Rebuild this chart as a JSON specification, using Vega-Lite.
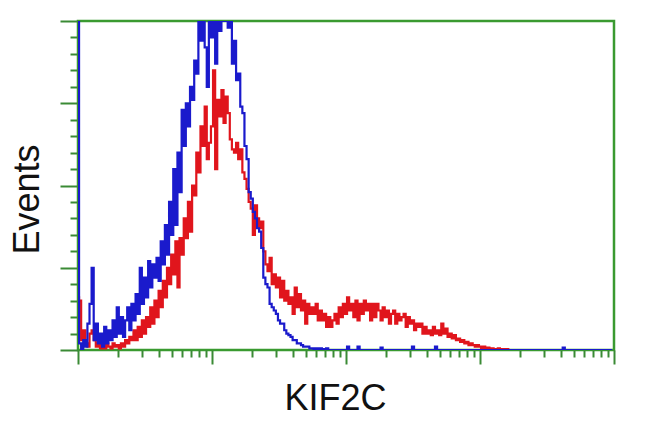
{
  "$schema": "https://vega.github.io/schema/vega-lite/v6.json",
  "width": 536,
  "height": 329,
  "autosize": "none",
  "padding": {"left": 78, "top": 21, "right": 36, "bottom": 82},
  "background": "white",
  "config": {
    "view": {"stroke": "#3a9a30", "strokeWidth": 2.5},
    "axis": {"domain": false, "grid": false, "labels": false, "tickColor": "#3a8a35", "tickWidth": 2,
      "titleFont": "Liberation Sans", "titleFontSize": 36, "titleFontWeight": "normal", "titleColor": "#111111"}
  },
  "data": {"values": [
{"b":0,"red":16,"blue":130},{"b":1,"red":15,"blue":2},{"b":2,"red":3,"blue":0},{"b":3,"red":6,"blue":3},{"b":4,"red":2,"blue":1},{"b":5,"red":1,"blue":8},{"b":6,"red":5,"blue":14},{"b":7,"red":6,"blue":25},{"b":8,"red":3,"blue":3},{"b":9,"red":1,"blue":8},
{"b":10,"red":2,"blue":2},{"b":11,"red":0.5,"blue":5},{"b":12,"red":1.5,"blue":1},{"b":13,"red":0.5,"blue":7},{"b":14,"red":2,"blue":2},{"b":15,"red":1,"blue":6},{"b":16,"red":0.5,"blue":3},{"b":17,"red":2,"blue":9},{"b":18,"red":1,"blue":4},{"b":19,"red":1.5,"blue":13},
{"b":20,"red":0.5,"blue":5},{"b":21,"red":2,"blue":10},{"b":22,"red":1,"blue":4},{"b":23,"red":3,"blue":9},{"b":24,"red":2,"blue":13},{"b":25,"red":4,"blue":6},{"b":26,"red":3,"blue":14},{"b":27,"red":6,"blue":9},{"b":28,"red":3,"blue":17},{"b":29,"red":7,"blue":11},
{"b":30,"red":4,"blue":25},{"b":31,"red":9,"blue":14},{"b":32,"red":5,"blue":22},{"b":33,"red":10,"blue":16},{"b":34,"red":7,"blue":27},{"b":35,"red":13,"blue":19},{"b":36,"red":8,"blue":26},{"b":37,"red":15,"blue":22},{"b":38,"red":10,"blue":28},{"b":39,"red":18,"blue":21},
{"b":40,"red":13,"blue":33},{"b":41,"red":21,"blue":26},{"b":42,"red":16,"blue":38},{"b":43,"red":25,"blue":29},{"b":44,"red":20,"blue":45},{"b":45,"red":29,"blue":35},{"b":46,"red":23,"blue":55},{"b":47,"red":33,"blue":38},{"b":48,"red":19,"blue":60},{"b":49,"red":34,"blue":48},
{"b":50,"red":29,"blue":73},{"b":51,"red":40,"blue":62},{"b":52,"red":34,"blue":75},{"b":53,"red":45,"blue":68},{"b":54,"red":36,"blue":80},{"b":55,"red":50,"blue":76},{"b":56,"red":47,"blue":88},{"b":57,"red":60,"blue":84},{"b":58,"red":54,"blue":100},{"b":59,"red":68,"blue":94},
{"b":60,"red":62,"blue":105},{"b":61,"red":74,"blue":92},{"b":62,"red":58,"blue":80},{"b":63,"red":63,"blue":102},{"b":64,"red":68,"blue":95},{"b":65,"red":85,"blue":104},{"b":66,"red":55,"blue":87},{"b":67,"red":76,"blue":102},{"b":68,"red":71,"blue":97},{"b":69,"red":79,"blue":106},
{"b":70,"red":69,"blue":100},{"b":71,"red":77,"blue":108},{"b":72,"red":72,"blue":98},{"b":73,"red":64,"blue":101},{"b":74,"red":61,"blue":87},{"b":75,"red":60,"blue":94},{"b":76,"red":63,"blue":82},{"b":77,"red":58,"blue":84},{"b":78,"red":61,"blue":74},{"b":79,"red":54,"blue":72},
{"b":80,"red":52,"blue":62},{"b":81,"red":49,"blue":58},{"b":82,"red":45,"blue":48},{"b":83,"red":43,"blue":46},{"b":84,"red":35,"blue":42},{"b":85,"red":44,"blue":40},{"b":86,"red":40,"blue":37},{"b":87,"red":37,"blue":36},{"b":88,"red":39,"blue":31},{"b":89,"red":30,"blue":22},
{"b":90,"red":26,"blue":20},{"b":91,"red":24,"blue":19},{"b":92,"red":28,"blue":14},{"b":93,"red":20,"blue":13},{"b":94,"red":23,"blue":12},{"b":95,"red":19,"blue":11},{"b":96,"red":22,"blue":9},{"b":97,"red":16,"blue":8},{"b":98,"red":21,"blue":8},{"b":99,"red":15,"blue":6},
{"b":100,"red":18,"blue":5},{"b":101,"red":14,"blue":4.5},{"b":102,"red":16,"blue":4},{"b":103,"red":11,"blue":3},{"b":104,"red":19,"blue":3},{"b":105,"red":13,"blue":2},{"b":106,"red":17,"blue":2},{"b":107,"red":12,"blue":1.5},{"b":108,"red":15,"blue":1},{"b":109,"red":8,"blue":1},
{"b":110,"red":14,"blue":1},{"b":111,"red":11,"blue":0.5},{"b":112,"red":13,"blue":0.5},{"b":113,"red":11,"blue":0.3},{"b":114,"red":14,"blue":0.5},{"b":115,"red":9,"blue":0},{"b":116,"red":12,"blue":0.5},{"b":117,"red":9,"blue":0},{"b":118,"red":11,"blue":0.3},{"b":119,"red":7,"blue":0.5},
{"b":120,"red":10,"blue":0},{"b":121,"red":7,"blue":0},{"b":122,"red":9,"blue":0},{"b":123,"red":11,"blue":0},{"b":124,"red":8,"blue":0},{"b":125,"red":13,"blue":0},{"b":126,"red":10,"blue":0},{"b":127,"red":14,"blue":0},{"b":128,"red":11,"blue":0},{"b":129,"red":16,"blue":1},
{"b":130,"red":12,"blue":0},{"b":131,"red":14,"blue":0},{"b":132,"red":10,"blue":0},{"b":133,"red":15,"blue":0},{"b":134,"red":9,"blue":1},{"b":135,"red":14,"blue":0},{"b":136,"red":11,"blue":0},{"b":137,"red":15,"blue":0},{"b":138,"red":12,"blue":0},{"b":139,"red":14,"blue":0},
{"b":140,"red":9,"blue":0},{"b":141,"red":14,"blue":0},{"b":142,"red":10,"blue":0},{"b":143,"red":14,"blue":0},{"b":144,"red":12,"blue":0},{"b":145,"red":9,"blue":0.7},{"b":146,"red":13,"blue":0},{"b":147,"red":10,"blue":0},{"b":148,"red":12,"blue":0},{"b":149,"red":8,"blue":0},
{"b":150,"red":11,"blue":0},{"b":151,"red":12,"blue":0},{"b":152,"red":8,"blue":0},{"b":153,"red":11,"blue":0},{"b":154,"red":9,"blue":0},{"b":155,"red":10,"blue":0},{"b":156,"red":11,"blue":0},{"b":157,"red":7,"blue":0},{"b":158,"red":10,"blue":0},{"b":159,"red":8,"blue":0},
{"b":160,"red":9,"blue":1},{"b":161,"red":6,"blue":0},{"b":162,"red":8,"blue":0},{"b":163,"red":7,"blue":0},{"b":164,"red":8,"blue":0},{"b":165,"red":5,"blue":0},{"b":166,"red":7,"blue":0},{"b":167,"red":5,"blue":0},{"b":168,"red":6,"blue":0},{"b":169,"red":4.5,"blue":0},
{"b":170,"red":7,"blue":0},{"b":171,"red":5,"blue":1},{"b":172,"red":6,"blue":0},{"b":173,"red":4.5,"blue":0},{"b":174,"red":8,"blue":0},{"b":175,"red":5,"blue":0},{"b":176,"red":6.5,"blue":0},{"b":177,"red":4,"blue":0},{"b":178,"red":5,"blue":0},{"b":179,"red":3.5,"blue":0},
{"b":180,"red":4.5,"blue":0},{"b":181,"red":3,"blue":0},{"b":182,"red":3.5,"blue":0},{"b":183,"red":2.5,"blue":0},{"b":184,"red":3,"blue":0},{"b":185,"red":2,"blue":0},{"b":186,"red":2.5,"blue":0},{"b":187,"red":1.5,"blue":0},{"b":188,"red":2,"blue":0},{"b":189,"red":1.5,"blue":0},
{"b":190,"red":1,"blue":0},{"b":191,"red":1.5,"blue":0},{"b":192,"red":1,"blue":0},{"b":193,"red":0.5,"blue":0},{"b":194,"red":1,"blue":0},{"b":195,"red":0.5,"blue":0},{"b":196,"red":0.7,"blue":0},{"b":197,"red":0.3,"blue":0},{"b":198,"red":0.5,"blue":0},{"b":199,"red":0.3,"blue":0},
{"b":200,"red":0.3,"blue":0},{"b":201,"red":0.5,"blue":0},{"b":202,"red":0.2,"blue":0},{"b":203,"red":0.3,"blue":0},{"b":204,"red":0,"blue":0},{"b":205,"red":0.3,"blue":0},{"b":206,"red":0,"blue":0},{"b":207,"red":0,"blue":0},{"b":208,"red":0,"blue":0},{"b":209,"red":0,"blue":0},
{"b":210,"red":0,"blue":0},{"b":211,"red":0,"blue":0},{"b":212,"red":0,"blue":0},{"b":213,"red":0,"blue":0},{"b":214,"red":0,"blue":0},{"b":215,"red":0,"blue":0},{"b":216,"red":0,"blue":0},{"b":217,"red":0,"blue":0},{"b":218,"red":0,"blue":0},{"b":219,"red":0,"blue":0},
{"b":220,"red":0,"blue":0},{"b":221,"red":0,"blue":0},{"b":222,"red":0,"blue":0},{"b":223,"red":0,"blue":0},{"b":224,"red":0,"blue":0},{"b":225,"red":0,"blue":0},{"b":226,"red":0,"blue":0},{"b":227,"red":0,"blue":0},{"b":228,"red":0,"blue":0},{"b":229,"red":0,"blue":0},
{"b":230,"red":0,"blue":0},{"b":231,"red":0,"blue":0},{"b":232,"red":0,"blue":0.7},{"b":233,"red":0,"blue":0},{"b":234,"red":0,"blue":0},{"b":235,"red":0,"blue":0},{"b":236,"red":0,"blue":0},{"b":237,"red":0,"blue":0},{"b":238,"red":0,"blue":0},{"b":239,"red":0,"blue":0},
{"b":240,"red":0,"blue":0},{"b":241,"red":0,"blue":0},{"b":242,"red":0,"blue":0},{"b":243,"red":0,"blue":0},{"b":244,"red":0,"blue":0},{"b":245,"red":0,"blue":0},{"b":246,"red":0,"blue":0},{"b":247,"red":0,"blue":0},{"b":248,"red":0,"blue":0},{"b":249,"red":0,"blue":0},
{"b":250,"red":0,"blue":0},{"b":251,"red":0,"blue":0},{"b":252,"red":0,"blue":0},{"b":253,"red":0,"blue":0},{"b":254,"red":0,"blue":0},{"b":255,"red":0,"blue":0}
  ]},
  "layer": [
    {
      "mark": {"type": "line", "interpolate": "step", "color": "#e0151c", "strokeWidth": 2.2, "clip": true},
      "encoding": {
        "x": {"field": "b", "type": "quantitative", "scale": {"domain": [0, 256], "nice": false, "zero": false},
          "axis": {"orient": "bottom", "values": [0, 64, 128, 192, 256], "tickSize": 14, "title": "KIF2C",
            "titleX": 257, "titleY": 48, "titleBaseline": "middle", "titleAlign": "center"}},
        "y": {"field": "red", "type": "quantitative", "scale": {"domain": [0, 100], "nice": false},
          "axis": {"orient": "left", "values": [0, 25, 50, 75, 100], "tickSize": 18, "title": "Events",
            "titleX": -51, "titleY": 178, "titleAngle": 270, "titleAlign": "center", "titleBaseline": "middle"}}
      }
    },
    {
      "mark": {"type": "line", "interpolate": "step", "color": "#1a1acc", "strokeWidth": 2.2, "clip": true},
      "encoding": {
        "x": {"field": "b", "type": "quantitative",
          "axis": {"orient": "bottom", "values": [19.27, 30.53, 38.53, 44.74, 49.8, 54.09, 57.8, 61.07, 83.27, 94.53, 102.53, 108.74, 113.8, 118.09, 121.8, 125.07, 147.27, 158.53, 166.53, 172.74, 177.8, 182.09, 185.8, 189.07, 211.27, 222.53, 230.53, 236.74, 241.8, 246.09, 249.8, 253.07], "tickSize": 7, "title": null}},
        "y": {"field": "blue", "type": "quantitative",
          "axis": {"orient": "left", "values": [5, 10, 15, 20, 30, 35, 40, 45, 55, 60, 65, 70, 80, 85, 90, 95], "tickSize": 8, "title": null}}
      }
    }
  ],
  "resolve": {"axis": {"x": "independent", "y": "independent"}}
}
